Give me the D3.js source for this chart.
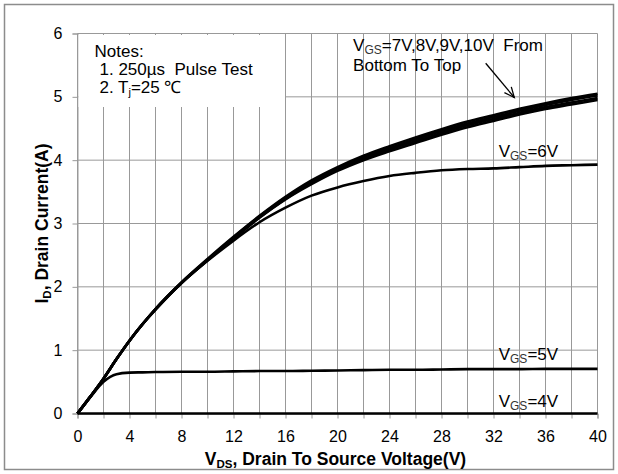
<!DOCTYPE html>
<html>
<head>
<meta charset="utf-8">
<script src="https://cdn.jsdelivr.net/npm/d3@7"></script>
<style>
  body { margin: 0; background: #fff; }
  svg { display: block; font-family: "Liberation Sans", Arial, sans-serif; }
  text { white-space: pre; }
</style>
</head>
<body>
<svg width="618" height="474"></svg>
<script>
(function(d3) {
    "use strict";

    // VDS sample points (V)
    var vds = [0, 1, 2, 3, 4, 5, 6, 8, 10, 12, 14, 16, 18, 20, 22, 24, 26, 28, 30, 32, 34, 36, 38, 40];

    // ID (A) for each gate voltage
    var id10 = [0, 0.27, 0.55, 0.86, 1.15, 1.41, 1.65, 2.07, 2.44, 2.79, 3.12, 3.42, 3.68, 3.89, 4.07, 4.22, 4.36, 4.49, 4.61, 4.71, 4.81, 4.90, 4.98, 5.05];
    var id9 = [0, 0.27, 0.55, 0.86, 1.15, 1.41, 1.65, 2.07, 2.43, 2.78, 3.11, 3.41, 3.66, 3.87, 4.05, 4.19, 4.33, 4.46, 4.58, 4.68, 4.78, 4.87, 4.95, 5.02];
    var id8 = [0, 0.27, 0.55, 0.86, 1.15, 1.41, 1.65, 2.06, 2.42, 2.77, 3.10, 3.39, 3.64, 3.85, 4.02, 4.17, 4.30, 4.43, 4.55, 4.65, 4.75, 4.84, 4.91, 4.98];
    var id7 = [0, 0.27, 0.55, 0.86, 1.15, 1.41, 1.64, 2.06, 2.42, 2.76, 3.09, 3.38, 3.62, 3.83, 4.00, 4.14, 4.27, 4.40, 4.52, 4.62, 4.72, 4.81, 4.88, 4.95];
    var id6 = [0, 0.27, 0.55, 0.86, 1.15, 1.41, 1.64, 2.06, 2.41, 2.73, 3.02, 3.25, 3.44, 3.57, 3.67, 3.75, 3.80, 3.84, 3.86, 3.87, 3.89, 3.91, 3.92, 3.93];
    var id5 = [0, 0.26, 0.50, 0.62, 0.645, 0.65, 0.655, 0.66, 0.66, 0.665, 0.67, 0.67, 0.675, 0.68, 0.685, 0.69, 0.69, 0.695, 0.70, 0.70, 0.70, 0.705, 0.705, 0.705];
    var id4 = [0, 0, 0, 0, 0, 0, 0, 0, 0, 0, 0, 0, 0, 0, 0, 0, 0, 0, 0, 0, 0, 0, 0, 0];

    var xTicks = [0, 2, 4, 6, 8, 10, 12, 14, 16, 18, 20, 22, 24, 26, 28, 30, 32, 34, 36, 38, 40];
    var yTicks = [0, 1, 2, 3, 4, 5, 6];

    var svg = d3.select("svg"),
        margin = {left: 77.5, top: 33.5},
        grey = "#999";

    var x = d3.scaleLinear().domain([0, 40]).range([0, 520]),
        y = d3.scaleLinear().domain([0, 6]).range([380, 0]);

    // outer frame
    svg.append("rect")
        .attr("x", 4.5).attr("y", 4.5)
        .attr("width", 609).attr("height", 465)
        .attr("fill", "none").attr("stroke", "#8c8c8c").attr("stroke-width", 1.5);

    var g = svg.append("g").attr("transform", "translate(" + margin.left + "," + margin.top + ")");

    // grid
    g.append("g").selectAll("line").data(xTicks).enter().append("line")
        .attr("x1", x).attr("x2", x)
        .attr("y1", 0).attr("y2", y(0))
        .attr("stroke", grey);
    g.append("g").selectAll("line").data(yTicks).enter().append("line")
        .attr("x1", 0).attr("x2", x(40))
        .attr("y1", y).attr("y2", y)
        .attr("stroke", grey);

    // axes
    var xAxis = g.append("g").attr("transform", "translate(0," + y(0) + ")")
        .call(d3.axisBottom(x).tickValues(xTicks).tickSize(5).tickPadding(12)
            .tickFormat(function(d) { return d % 4 === 0 ? d : ""; }));
    var yAxis = g.append("g")
        .call(d3.axisLeft(y).tickValues(yTicks).tickSize(5).tickPadding(10).tickFormat(d3.format("d")));
    [xAxis, yAxis].forEach(function(a) {
        a.select(".domain").attr("stroke", grey);
        a.selectAll(".tick line").attr("stroke", grey);
        a.selectAll(".tick text").attr("fill", "#000")
            .style("font-size", "16px").style("font-family", "'Liberation Sans', Arial, sans-serif");
    });

    // white box behind the notes
    g.append("rect")
        .attr("x", 1).attr("y", 1.5)
        .attr("width", x(16) - 1.5).attr("height", 72)
        .attr("fill", "#fff");

    // curves
    var line = d3.line()
        .x(function(d) { return x(d[0]); })
        .y(function(d) { return y(d[1]); })
        .curve(d3.curveMonotoneX);

    var series = [id4, id5, id6, id7, id8, id9, id10];
    g.append("g").selectAll("path").data(series).enter().append("path")
        .attr("d", function(s) { return line(vds.map(function(v, i) { return [v, s[i]]; })); })
        .attr("fill", "none")
        .attr("stroke", "#000")
        .attr("stroke-width", 2.6)
        .attr("stroke-linejoin", "round");

    // notes
    var notes = g.append("text").attr("font-size", "17px").attr("fill", "#000");
    notes.append("tspan").attr("x", 17).attr("y", 23.5).text("Notes:");
    notes.append("tspan").attr("x", 22).attr("y", 41.5).text("1. 250\u00b5s  Pulse Test");
    notes.append("tspan").attr("x", 22).attr("y", 59.5).text("2. T");
    notes.append("tspan").attr("font-size", "11px").attr("dy", 3).text("j");
    notes.append("tspan").attr("dy", -3).text("=25 \u2103");

    // VGS labels
    function vgsLabel(xv, yv, rest) {
        var t = g.append("text").attr("x", x(xv)).attr("y", y(yv))
            .attr("font-size", "17px").attr("fill", "#000");
        t.append("tspan").text("V");
        t.append("tspan").attr("font-size", "12px").attr("dy", 2.5).attr("fill", "#333").text("GS");
        t.append("tspan").attr("dy", -2.5).text(rest);
        return t;
    }
    vgsLabel(21.2, 5.72, "=7V,8V,9V,10V  From");
    g.append("text").attr("x", x(21.2)).attr("y", y(5.41)).attr("font-size", "17px").text("Bottom To Top");
    vgsLabel(32.4, 4.05, "=6V");
    vgsLabel(32.4, 0.84, "=5V");
    vgsLabel(32.4, 0.1, "=4V");

    // arrow
    var ax1 = x(31.4), ay1 = y(5.53), ax2 = x(33.6), ay2 = y(4.99),
        ang = Math.atan2(ay2 - ay1, ax2 - ax1), hl = 11, hw = 0.42;
    g.append("line").attr("x1", ax1).attr("y1", ay1).attr("x2", ax2).attr("y2", ay2)
        .attr("stroke", "#000").attr("stroke-width", 1.3);
    g.append("path")
        .attr("d", "M" + (ax2 - hl * Math.cos(ang - hw)) + "," + (ay2 - hl * Math.sin(ang - hw)) +
            "L" + ax2 + "," + ay2 +
            "L" + (ax2 - hl * Math.cos(ang + hw)) + "," + (ay2 - hl * Math.sin(ang + hw)))
        .attr("fill", "none").attr("stroke", "#000").attr("stroke-width", 1.3);

    // axis titles
    var xt = svg.append("text").attr("x", margin.left + x(20) - 2).attr("y", 465)
        .attr("text-anchor", "middle").attr("font-size", "17.5px").attr("font-weight", "bold");
    xt.append("tspan").text("V");
    xt.append("tspan").attr("font-size", "11.5px").attr("dy", 3).text("DS");
    xt.append("tspan").attr("dy", -3).text(", Drain To Source Voltage(V)");

    var yt = svg.append("text").attr("transform", "translate(48," + (margin.top + y(3)) + ") rotate(-90)")
        .attr("text-anchor", "middle").attr("font-size", "17.5px").attr("font-weight", "bold");
    yt.append("tspan").text("I");
    yt.append("tspan").attr("font-size", "11.5px").attr("dy", 3).text("D");
    yt.append("tspan").attr("dy", -3).text(", Drain Current(A)");

}(d3));
</script>
</body>
</html>
